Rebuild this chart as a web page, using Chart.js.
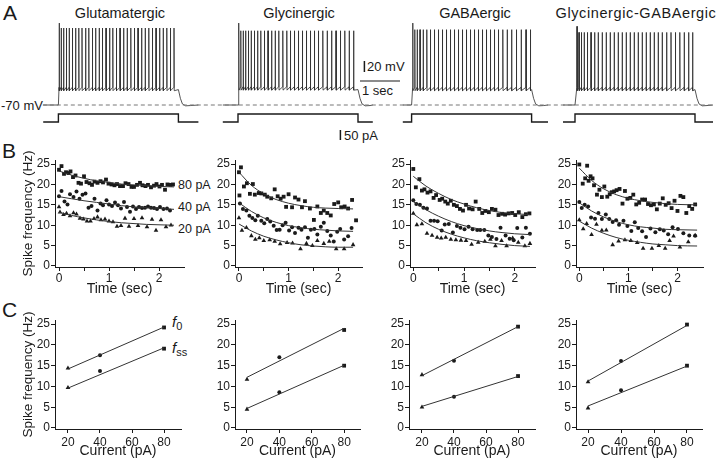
<!DOCTYPE html>
<html>
<head>
<meta charset="utf-8">
<script src="https://cdn.jsdelivr.net/npm/chart.js@4.4.0/dist/chart.umd.min.js"></script>
<style>
html, body { margin: 0; padding: 0; background: #fff; }
#fig { position: relative; width: 720px; height: 462px; overflow: hidden; font-family: 'Liberation Sans', Arial, sans-serif; color: #1a1a1a; }
#fig canvas { position: absolute; }
.lbl { position: absolute; white-space: nowrap; line-height: 1; }
.c { transform: translate(-50%, -50%); }
.l { transform: translateY(-50%); }
.f i { font-size: 15px; }
.f sub { font-size: 11px; vertical-align: -3px; }
</style>
</head>
<body>
<div id="fig">
  <div class="lbl l" style="left:3px;top:12px;font-size:21px">A</div>
  <div class="lbl l" style="left:2px;top:150px;font-size:21px">B</div>
  <div class="lbl l" style="left:2px;top:309px;font-size:21px">C</div>
  <div class="lbl c" style="left:120px;top:13px;font-size:14.5px">Glutamatergic</div>
  <div class="lbl c" style="left:299px;top:13px;font-size:14.5px">Glycinergic</div>
  <div class="lbl c" style="left:475px;top:13px;font-size:14.5px">GABAergic</div>
  <div class="lbl c" style="left:636px;top:13px;font-size:14.5px;letter-spacing:0.6px">Glycinergic-GABAergic</div>
  <div class="lbl l" style="left:1px;top:105px;font-size:13px">-70 mV</div>
  <div class="lbl l" style="left:367px;top:66px;font-size:13px">20 mV</div>
  <div class="lbl l" style="left:362px;top:90px;font-size:13px">1 sec</div>
  <div class="lbl l" style="left:344px;top:135px;font-size:13px">50 pA</div>
  <div class="lbl l" style="left:178px;top:185px;font-size:12.5px">80 pA</div>
  <div class="lbl l" style="left:178px;top:207px;font-size:12.5px">40 pA</div>
  <div class="lbl l" style="left:178px;top:229px;font-size:12.5px">20 pA</div>
  <div class="lbl l f" style="left:172px;top:323px"><i>f</i><sub>0</sub></div>
  <div class="lbl l f" style="left:172px;top:349px"><i>f</i><sub>ss</sub></div>
</div>
<script>
// ---- panel A: spike times (s after step onset), peak / trough levels (mV)
const stimDur = 3.0;      // s
const stimAmp = 40;       // pA
const glutSpikes = [0.02, 0.07, 0.13, 0.2, 0.27, 0.35, 0.43, 0.51, 0.59, 0.68, 0.76, 0.85, 0.93, 1.02, 1.1, 1.19, 1.28, 1.36, 1.45, 1.54, 1.63, 1.72, 1.81, 1.9, 1.99, 2.08, 2.17, 2.26, 2.35, 2.44, 2.53, 2.62, 2.71, 2.8, 2.89];
const glySpikes = [0.02, 0.07, 0.13, 0.19, 0.26, 0.33, 0.41, 0.49, 0.57, 0.66, 0.75, 0.84, 0.93, 1.02, 1.12, 1.22, 1.31, 1.41, 1.51, 1.61, 1.71, 1.81, 1.91, 2.01, 2.12, 2.23, 2.34, 2.45, 2.56, 2.67, 2.78, 2.89];
const gabaSpikes = [0.03, 0.08, 0.14, 0.21, 0.29, 0.38, 0.47, 0.57, 0.67, 0.77, 0.87, 0.97, 1.07, 1.17, 1.27, 1.37, 1.47, 1.57, 1.67, 1.77, 1.87, 1.97, 2.07, 2.17, 2.28, 2.39, 2.5, 2.62, 2.74, 2.86, 2.97];
const mixSpikes = [0.05, 0.1, 0.16, 0.23, 0.31, 0.4, 0.49, 0.58, 0.68, 0.78, 0.88, 0.98, 1.08, 1.18, 1.28, 1.38, 1.48, 1.58, 1.68, 1.78, 1.88, 1.98, 2.08, 2.18, 2.29, 2.4, 2.51, 2.62, 2.73, 2.84, 2.94];
const firstPeak = [79, 79, 79, 73];
const spikePeak = [70, 65, 67, 62];
const spikeThr = [-38, -37, -38, -38];
const spikeAhp = [-44, -43, -44, -44];
const restMv = -70;
const recoveryT = [0, 0.05, 0.1, 0.18, 0.3];
const recoveryV = [-42, -58, -68, -71.5, -71];

// ---- panel B: instantaneous frequency [time s, Hz]
const glut80 = [[0, 23.6], [0.05, 24.5], [0.1, 22.6], [0.14, 23], [0.19, 22.8], [0.23, 23.2], [0.28, 21.8], [0.33, 22.2], [0.39, 20.4], [0.44, 20.2], [0.5, 22], [0.55, 20.6], [0.61, 20.3], [0.66, 19.9], [0.71, 20.7], [0.77, 20.4], [0.83, 20.8], [0.88, 20.5], [0.94, 21.2], [0.99, 20.2], [1.05, 20], [1.11, 19.8], [1.16, 20.1], [1.22, 19.6], [1.28, 19.6], [1.33, 20.3], [1.39, 20.1], [1.45, 19.4], [1.5, 19.4], [1.56, 19.9], [1.62, 20.4], [1.67, 19.8], [1.73, 19.6], [1.78, 19.9], [1.84, 19.3], [1.9, 19.7], [1.95, 20.1], [2.01, 19.5], [2.06, 19.9], [2.12, 18.7], [2.17, 20], [2.23, 19.9], [2.28, 20]];
const glut40 = [[0, 17.1], [0.05, 18.4], [0.11, 15.8], [0.17, 15.1], [0.22, 17.6], [0.29, 16.9], [0.35, 18.3], [0.41, 16.5], [0.47, 17.5], [0.53, 17.8], [0.59, 14.3], [0.65, 14.7], [0.71, 16.5], [0.77, 13.6], [0.83, 15.3], [0.88, 14.9], [0.95, 16.1], [1, 15.1], [1.06, 14.7], [1.12, 15.6], [1.18, 14.9], [1.24, 14.1], [1.3, 15.7], [1.36, 14.5], [1.42, 13.3], [1.48, 14.6], [1.54, 14], [1.6, 14.5], [1.66, 14.2], [1.72, 14.3], [1.78, 14.6], [1.84, 14.3], [1.9, 14.2], [1.96, 14], [2.02, 14.5], [2.09, 14], [2.16, 14.1], [2.22, 13.6]];
const glut20 = [[0, 14.5], [0.02, 13.2], [0.09, 12.6], [0.15, 12.9], [0.22, 12.3], [0.29, 13], [0.35, 12.7], [0.42, 11.7], [0.49, 11.5], [0.56, 11], [0.63, 11], [0.7, 11.6], [0.77, 12], [0.84, 11.3], [0.92, 11.5], [1, 11], [1.08, 10.8], [1.16, 9.7], [1.24, 9.9], [1.32, 11.7], [1.4, 9.7], [1.5, 11.6], [1.58, 9.9], [1.66, 11.8], [1.76, 9.6], [1.86, 11.4], [1.94, 8.7], [2.04, 11.3], [2.14, 9.6], [2.24, 10]];
const gly80 = [[0, 23], [0.04, 24.2], [0.01, 17.3], [0.1, 19.5], [0.16, 20.3], [0.22, 17.7], [0.28, 20.1], [0.32, 17.5], [0.4, 17.9], [0.45, 17.8], [0.52, 17.5], [0.57, 17], [0.65, 16.6], [0.72, 18.8], [0.78, 17.1], [0.84, 16.5], [0.9, 17], [0.95, 14.5], [1, 17.6], [1.07, 14.4], [1.13, 16.8], [1.2, 16.3], [1.27, 14.4], [1.33, 15.9], [1.43, 14.1], [1.51, 11.3], [1.58, 14.6], [1.65, 13], [1.71, 13.6], [1.78, 13], [1.85, 12.4], [1.92, 15.2], [2, 15.6], [2.06, 14.4], [2.13, 14.6], [2.2, 14.1], [2.28, 16.2], [2.36, 11.2]];
const gly40 = [[0.02, 15.3], [0.08, 14], [0.15, 13.6], [0.21, 12.3], [0.27, 11.8], [0.33, 11.2], [0.38, 12.3], [0.45, 11.1], [0.51, 10.5], [0.57, 11.5], [0.63, 10.9], [0.7, 9.9], [0.76, 8.8], [0.82, 8.9], [0.88, 10], [0.94, 10.6], [1.01, 8.7], [1.07, 9.5], [1.13, 8.1], [1.2, 9.4], [1.26, 8.9], [1.33, 9.5], [1.39, 6.9], [1.45, 8.9], [1.52, 9.1], [1.58, 7.7], [1.65, 9.6], [1.71, 10.6], [1.78, 8.6], [1.85, 7.5], [1.91, 6], [1.98, 8.4], [2.04, 9.1], [2.12, 6.5], [2.2, 7.3], [2.27, 9.3]];
const gly20 = [[0, 11.8], [0.06, 8.7], [0.15, 9.4], [0.25, 7.4], [0.33, 6.5], [0.41, 6.9], [0.5, 6.2], [0.62, 6.4], [0.72, 6], [0.83, 5.4], [0.97, 5.7], [1.08, 5.6], [1.24, 4.2], [1.36, 5.5], [1.48, 5], [1.58, 6.2], [1.71, 5.5], [1.82, 6], [1.96, 4.2], [2.12, 4.2], [2.3, 5.2]];
const gaba80 = [[0, 23.8], [0.05, 19.3], [0.12, 21.3], [0.17, 18.5], [0.22, 18.8], [0.28, 18], [0.34, 18.3], [0.4, 16.7], [0.45, 17.4], [0.52, 16.2], [0.57, 16.5], [0.63, 15.8], [0.68, 15.3], [0.74, 16], [0.8, 15], [0.86, 14.7], [0.92, 14], [0.98, 13.6], [1.04, 15], [1.1, 14.1], [1.17, 13.9], [1.23, 15.8], [1.3, 14], [1.36, 13], [1.42, 13.5], [1.49, 13.2], [1.55, 14], [1.62, 13.8], [1.68, 12.5], [1.75, 12.8], [1.81, 12.6], [1.88, 12.9], [1.95, 13], [2.01, 12.5], [2.08, 13.2], [2.15, 12], [2.22, 12.7], [2.29, 12.9]];
const gaba40 = [[0, 16.1], [0.06, 15.2], [0.13, 15], [0.2, 14.3], [0.27, 14.1], [0.34, 11.1], [0.41, 11.1], [0.48, 11], [0.56, 8.7], [0.62, 10.2], [0.7, 10.3], [0.78, 8.2], [0.86, 9.8], [0.93, 9.4], [1.01, 9], [1.09, 9.6], [1.17, 9], [1.26, 8.8], [1.32, 8.8], [1.4, 8.8], [1.48, 7.5], [1.55, 7.1], [1.64, 6.6], [1.72, 9.4], [1.82, 7.5], [1.9, 6.7], [1.98, 6.3], [2.05, 9.3], [2.15, 7], [2.22, 9.4], [2.3, 7.9]];
const gaba20 = [[0, 12.9], [0.07, 10.1], [0.17, 10.3], [0.27, 8], [0.37, 7.5], [0.47, 7], [0.55, 6.8], [0.64, 7], [0.74, 6.5], [0.84, 6.4], [0.94, 6.3], [1.04, 6.2], [1.15, 5.3], [1.28, 5.8], [1.41, 6], [1.52, 6.5], [1.62, 4.9], [1.74, 6.2], [1.84, 4.9], [1.96, 6.8], [2.07, 5.8], [2.2, 4.9], [2.3, 5.5]];
const mix80 = [[0, 24.9], [0.07, 20.2], [0.12, 21.5], [0.16, 24.6], [0.19, 20.9], [0.23, 22], [0.27, 21.5], [0.3, 19.8], [0.36, 17.5], [0.41, 18.7], [0.46, 16.9], [0.51, 19.5], [0.57, 17], [0.62, 17.6], [0.66, 18.1], [0.71, 18.3], [0.76, 18.6], [0.82, 18.9], [0.88, 15.3], [0.93, 18.4], [0.98, 16.5], [1.04, 16.7], [1.1, 17.5], [1.16, 15.1], [1.22, 15.5], [1.28, 16.3], [1.34, 16.3], [1.4, 15.2], [1.46, 14.9], [1.52, 15.1], [1.58, 13.9], [1.64, 15.3], [1.7, 16.6], [1.76, 15], [1.82, 15.4], [1.88, 14.2], [1.94, 16], [2, 13.5], [2.06, 17.2], [2.12, 16.9], [2.18, 13], [2.24, 14.7], [2.3, 14], [2.36, 15.1]];
const mix40 = [[0, 15.7], [0.05, 14.2], [0.11, 15], [0.18, 14.6], [0.24, 11.9], [0.32, 11.6], [0.39, 13], [0.46, 11.5], [0.54, 12.6], [0.61, 11.5], [0.68, 10.8], [0.75, 11.2], [0.81, 10.1], [0.9, 11.1], [0.98, 9.8], [1.06, 8.6], [1.13, 10.7], [1.2, 9.3], [1.28, 8.5], [1.36, 7.1], [1.45, 9.2], [1.55, 8.3], [1.64, 9], [1.72, 8.7], [1.81, 7.8], [1.9, 9.5], [2.01, 9.1], [2.12, 8], [2.24, 7.5], [2.36, 7.4]];
const mix20 = [[0, 11.3], [0.08, 9.1], [0.15, 10.4], [0.25, 7.7], [0.35, 10.2], [0.46, 8.7], [0.55, 8.8], [0.68, 5.2], [0.8, 6.1], [0.93, 6.4], [1.05, 6.2], [1.18, 5.7], [1.3, 4.3], [1.48, 4.3], [1.62, 5], [1.75, 4.3], [1.84, 6.2], [1.92, 7.3], [2.05, 4.6], [2.22, 5.9], [2.36, 7.5]];

// exponential fits
const fitTimes = [0, 0.25, 0.5, 0.75, 1, 1.25, 1.5, 1.75, 2, 2.3];
const fitTimesMix = [0, 0.25, 0.5, 0.75, 1, 1.25, 1.5, 1.75, 2, 2.4];
const glutFit80 = [23.3, 22.3, 21.5, 20.9, 20.5, 20.1, 19.9, 19.7, 19.5, 19.4];
const glutFit40 = [17, 16.5, 16, 15.6, 15.2, 14.8, 14.5, 14.3, 14.1, 13.9];
const glutFit20 = [13.2, 12.4, 11.8, 11.3, 10.9, 10.6, 10.4, 10.2, 10.1, 10];
const glyFit80 = [23, 19.8, 17.7, 16.3, 15.4, 14.8, 14.4, 14.2, 14.1, 14];
const glyFit40 = [15.5, 13.4, 11.8, 10.7, 9.9, 9.4, 9, 8.8, 8.6, 8.5];
const glyFit20 = [10.3, 8.6, 7.3, 6.4, 5.7, 5.2, 4.9, 4.7, 4.6, 4.6];
const gabaFit80 = [22, 19.6, 17.8, 16.3, 15.2, 14.3, 13.6, 13.1, 12.8, 12.6];
const gabaFit40 = [15.8, 13.8, 12.2, 10.9, 9.9, 9.2, 8.6, 8.2, 7.9, 7.7];
const gabaFit20 = [12.8, 10.6, 9, 7.8, 6.9, 6.2, 5.7, 5.3, 5, 4.8];
const mixFit80 = [24, 21, 18.9, 17.5, 16.6, 16, 15.6, 15.3, 15.1, 15];
const mixFit40 = [15.5, 13.5, 12, 10.9, 10.1, 9.6, 9.3, 9, 8.9, 8.8];
const mixFit20 = [11, 9.3, 8, 7, 6.3, 5.8, 5.4, 5.2, 5, 4.9];

// ---- panel C: initial (f0) and steady-state (fss) frequency vs current
const currents = [20, 40, 80];
const fitCurrents = [20, 80];
const glutF0 = [14.4, 17.5, 24.2], glutFss = [9.7, 13.7, 19.1];
const glyF0 = [11.7, 17, 23.6], glyFss = [4.5, 8.6, 15];
const gabaF0 = [12.8, 16.2, 24.4], gabaFss = [5, 7.5, 12.5];
const mixF0 = [11.1, 16.1, 24.9], mixFss = [4.8, 9.1, 15];
const glutF0Fit = [14.2, 24.3], glutFssFit = [9.6, 19.3];
const glyF0Fit = [12.2, 24], glyFssFit = [4.7, 15.1];
const gabaF0Fit = [12.6, 24.4], gabaFssFit = [5.2, 12.4];
const mixF0Fit = [11.3, 24.7], mixFssFit = [5.3, 14.9];

const freqTicks = [0, 5, 10, 15, 20, 25];
const timeTicks = [0, 0.5, 1, 1.5, 2];
const currentTicks = [20, 40, 60, 80];

// ---- layout
const INK = '#1a1a1a';
const fig = document.getElementById('fig');
Chart.defaults.font.family = "'Liberation Sans', Arial, sans-serif";
Chart.defaults.color = INK;
Chart.defaults.animation = false;

// page seconds at 40 px/s; onset / pre / post for each trace
const traceOnset = [1.46, 5.95, 10.29, 14.375];
const tracePre = [0.38, 0.38, 0.22, 0.3];
const tracePost = [0.5, 0.37, 0.41, 0.45];

const bLeft = [55, 235, 410, 576], bRight = [184, 362, 535, 703];
const bXMin = [-0.08, -0.08, -0.065, -0.067], bXMax = [2.5, 2.48, 2.4, 2.52];
const cLeft = [55, 235, 409, 576], cRight = [181, 360, 535, 702];
const cXMin = [11.9, 12.6, 11.9, 12.7], cXMax = [90.6, 89.8, 90.6, 89.1];

function addCanvas(left, top, width, height) {
  const c = document.createElement('canvas');
  c.width = width; c.height = height;
  c.style.left = left + 'px'; c.style.top = top + 'px';
  c.style.width = width + 'px'; c.style.height = height + 'px';
  fig.appendChild(c);
  return c;
}

// ---- panel A
function tracePoints(k, spikes) {
  const on = traceOnset[k];
  const p = [{ x: on - tracePre[k], y: restMv }, { x: on, y: restMv }];
  spikes.forEach((t, i) => {
    p.push({ x: on + t - 0.004, y: spikeThr[k] });
    p.push({ x: on + t, y: i ? spikePeak[k] : firstPeak[k] });
    p.push({ x: on + t + 0.006, y: spikeAhp[k] });
  });
  recoveryT.forEach((t, i) => p.push({ x: on + stimDur + t, y: recoveryV[i] }));
  p.push({ x: on + stimDur + tracePost[k], y: restMv });
  return p;
}
function stepPoints(k) {
  const on = traceOnset[k];
  return [
    { x: on - tracePre[k], y: 0 }, { x: on, y: 0 }, { x: on, y: stimAmp },
    { x: on + stimDur, y: stimAmp }, { x: on + stimDur, y: 0 }, { x: on + stimDur + tracePost[k], y: 0 }
  ];
}
const line = (data, axis, extra) => Object.assign({
  type: 'line', data, yAxisID: axis, borderColor: INK, borderWidth: 1,
  pointRadius: 0, tension: 0, fill: false
}, extra || {});

const aDatasets = [
  line([{ x: 1.07, y: restMv }, { x: 17.8, y: restMv }], 'mv', { borderColor: '#777', borderDash: [4, 3] }),
  ...[glutSpikes, glySpikes, gabaSpikes, mixSpikes].map((s, k) => line(tracePoints(k, s), 'mv', { borderColor: '#2a2a2a', borderWidth: 0.8 })),
  ...[0, 1, 2, 3].map(k => line(stepPoints(k), 'pa', { borderWidth: 1.4 })),
  line([{ x: 9.11, y: -10 }, { x: 9.11, y: 10 }], 'mv', { borderWidth: 1.5 }),
  line([{ x: 9.0, y: -26.4 }, { x: 10.0, y: -26.4 }], 'mv', { borderWidth: 1.2 }),
  line([{ x: 8.51, y: -40 }, { x: 8.51, y: -90 }], 'pa', { borderWidth: 1.5 })
];
new Chart(addCanvas(0, 16, 720, 128), {
  type: 'line',
  data: { datasets: aDatasets },
  options: {
    responsive: false, animation: false,
    layout: { padding: 0, autoPadding: false },
    plugins: { legend: { display: false }, tooltip: { enabled: false } },
    scales: {
      x: { type: 'linear', display: false, min: 0, max: 18 },
      mv: { type: 'linear', display: false, min: -140.9, max: 91.82 },
      pa: { type: 'linear', display: false, min: -110, max: 530 }
    }
  }
});

// ---- panels B and C
const pts = arr => arr.map(([x, y]) => ({ x, y }));
const zip = (xs, ys) => xs.map((x, i) => ({ x, y: ys[i] }));
const radius = { rect: 2.7, circle: 2, triangle: 2.7 };
function dots(data, style) {
  return {
    type: 'scatter', data, pointStyle: style, pointRadius: Array.isArray(style) ? style.map(s => radius[s]) : radius[style],
    backgroundColor: INK, borderWidth: 0
  };
}
function curve(data) {
  return { type: 'line', data, borderColor: '#333', borderWidth: 1, pointRadius: 0, cubicInterpolationMode: 'monotone', fill: false };
}

function smallChart(o) {
  const first = o.col === 0;
  const yW = first ? 39 : 30, padL = first ? 16 : 0, padT = 9, padR = 6, xH = 31;
  const w = o.right - o.left, h = o.bottom - o.top;
  const cv = addCanvas(o.left - yW - padL, o.top - padT, padL + yW + w + padR, padT + h + xH);
  const axisStyle = {
    grid: { display: true, drawOnChartArea: false, drawTicks: true, tickLength: 4, color: INK, lineWidth: 1 },
    border: { display: true, color: INK, width: 1 }
  };
  return new Chart(cv, {
    type: 'scatter',
    data: { datasets: o.datasets },
    options: {
      responsive: false, animation: false,
      layout: { padding: { left: padL, top: padT, right: padR, bottom: 0 }, autoPadding: false },
      plugins: { legend: { display: false }, tooltip: { enabled: false } },
      scales: {
        x: Object.assign({
          type: 'linear', min: o.xMin, max: o.xMax,
          afterBuildTicks: s => { s.ticks = o.xTicks.map(v => ({ value: v })); },
          afterFit: s => { s.height = xH; },
          ticks: { font: { size: 12 }, padding: o.xPad, maxRotation: 0, autoSkip: false, callback: o.xFmt },
          title: { display: true, text: o.xTitle, font: { size: 14 }, padding: 0 }
        }, axisStyle),
        y: Object.assign({
          type: 'linear', min: -0.25, max: 26,
          afterBuildTicks: s => { s.ticks = freqTicks.map(v => ({ value: v })); },
          afterFit: s => { s.width = yW; },
          ticks: { font: { size: 12 }, padding: 1 },
          title: { display: first, text: 'Spike frequency (Hz)', font: { size: 13.5 }, padding: { top: 4, bottom: 0 } }
        }, axisStyle)
      }
    }
  });
}

const bSets = [
  [glut80, glut40, glut20, glutFit80, glutFit40, glutFit20, fitTimes],
  [gly80, gly40, gly20, glyFit80, glyFit40, glyFit20, fitTimes],
  [gaba80, gaba40, gaba20, gabaFit80, gabaFit40, gabaFit20, fitTimes],
  [mix80, mix40, mix20, mixFit80, mixFit40, mixFit20, fitTimesMix]
];
bSets.forEach(([s80, s40, s20, f80, f40, f20, ft], col) => {
  smallChart({
    col, left: bLeft[col], right: bRight[col], top: 160, bottom: 267,
    xMin: bXMin[col], xMax: bXMax[col], xTicks: timeTicks, xPad: 0,
    xFmt: v => (Number.isInteger(v) ? String(v) : ''), xTitle: 'Time (sec)',
    datasets: [
      curve(zip(ft, f80)), curve(zip(ft, f40)), curve(zip(ft, f20)),
      dots(pts(s80), 'rect'), dots(pts(s40), 'circle'), dots(pts(s20), 'triangle')
    ]
  });
});

const cStyles = ['triangle', 'circle', 'rect'];
const cSets = [
  [glutF0, glutFss, glutF0Fit, glutFssFit],
  [glyF0, glyFss, glyF0Fit, glyFssFit],
  [gabaF0, gabaFss, gabaF0Fit, gabaFssFit],
  [mixF0, mixFss, mixF0Fit, mixFssFit]
];
cSets.forEach(([f0, fss, f0Fit, fssFit], col) => {
  smallChart({
    col, left: cLeft[col], right: cRight[col], top: 320, bottom: 429,
    xMin: cXMin[col], xMax: cXMax[col], xTicks: currentTicks, xPad: 2,
    xFmt: v => String(v), xTitle: 'Current (pA)',
    datasets: [
      curve(zip(fitCurrents, f0Fit)), curve(zip(fitCurrents, fssFit)),
      dots(zip(currents, f0), cStyles), dots(zip(currents, fss), cStyles)
    ]
  });
});
</script>
</body>
</html>
